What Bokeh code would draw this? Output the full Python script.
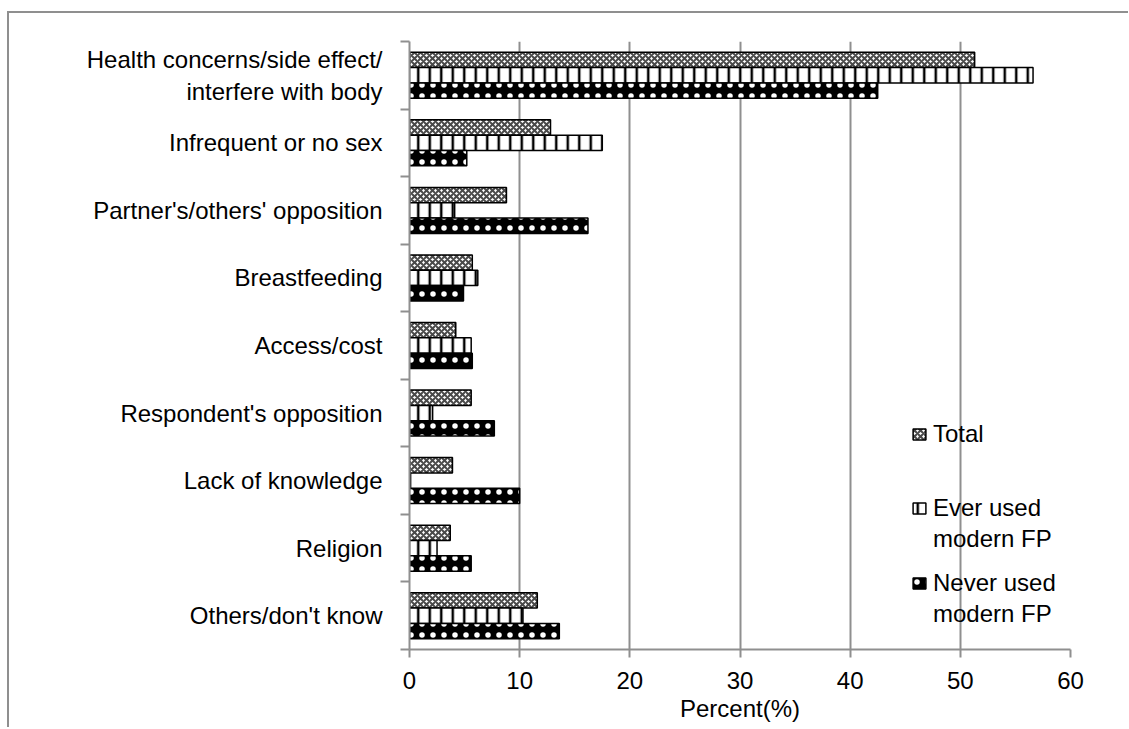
from bokeh.plotting import figure
from bokeh.models import (ColumnDataSource, Range1d, LinearAxis, FixedTicker,
                          Legend, LegendItem)
from bokeh.transform import dodge
from bokeh.embed import file_html
from bokeh.resources import INLINE

categories = [
    "Health concerns/side effect/\ninterfere with body",
    "Infrequent or no sex",
    "Partner's/others' opposition",
    "Breastfeeding",
    "Access/cost",
    "Respondent's opposition",
    "Lack of knowledge",
    "Religion",
    "Others/don't know",
]
total = [51.3, 12.8, 8.8, 5.7, 4.2, 5.6, 3.9, 3.7, 11.6]
ever_used = [56.6, 17.5, 4.1, 6.2, 5.6, 2.1, 0.1, 2.5, 10.3]
never_used = [42.5, 5.2, 16.2, 4.9, 5.7, 7.7, 10.0, 5.6, 13.6]
x_ticks = [0, 10, 20, 30, 40, 50, 60]

n = len(categories)
pos = [n - 1 - i for i in range(n)]
src = ColumnDataSource(dict(pos=pos, cat=categories, total=total,
                            ever=ever_used, never=never_used))

FONT = "Liberation Sans"
GRAY = "#8f8f8f"

p = figure(frame_width=661, frame_height=608,
           min_border_left=400, min_border_right=58,
           min_border_top=28, min_border_bottom=78,
           x_range=Range1d(0, 60), y_range=Range1d(-0.5, n - 0.5),
           output_backend="svg", toolbar_location=None,
           x_axis_location=None, y_axis_location=None)
p.margin = (11, 0, 0, 7)
p.styles = {"border-top": "2px solid " + GRAY, "border-left": "2px solid " + GRAY}
p.outline_line_color = None
p.background_fill_color = "white"
p.border_fill_color = "white"

h = 0.227
r_total = p.hbar(y=dodge("pos", h, range=p.y_range), left=0, right="total", height=h,
                 source=src, fill_color="white", line_color="black", line_width=1.5,
                 hatch_pattern="diagonal_cross", hatch_color="#4a4a4a",
                 hatch_scale=6, hatch_weight=2)
r_ever = p.hbar(y=dodge("pos", 0, range=p.y_range), left=0, right="ever", height=h,
                source=src, fill_color="white", line_color="black", line_width=1.5,
                hatch_pattern="vertical_line", hatch_color="black",
                hatch_scale=11.5, hatch_weight=2.5)
r_never = p.hbar(y=dodge("pos", -h, range=p.y_range), left=0, right="never", height=h,
                 source=src, fill_color="black", line_color="black", line_width=1.5,
                 hatch_pattern="dot", hatch_color="white",
                 hatch_scale=11, hatch_weight=0.8)
# invisible renderer used for second lines of legend labels
r_blank = p.hbar(y=[], left=[], right=[], height=h, fill_alpha=0, line_alpha=0)

# axes
xaxis = LinearAxis(ticker=FixedTicker(ticks=x_ticks), axis_label="Percent(%)")
xaxis.axis_line_color = GRAY
xaxis.axis_line_width = 2
xaxis.major_tick_line_color = GRAY
xaxis.major_tick_line_width = 2
xaxis.major_tick_out = 8
xaxis.major_tick_in = 0
xaxis.minor_tick_line_color = None
xaxis.major_label_text_font = FONT
xaxis.major_label_text_font_size = "24px"
xaxis.major_label_text_color = "black"
xaxis.major_label_standoff = 14
xaxis.axis_label_text_font = FONT
xaxis.axis_label_text_font_size = "24px"
xaxis.axis_label_text_font_style = "normal"
xaxis.axis_label_text_color = "black"
xaxis.axis_label_standoff = 3
p.add_layout(xaxis, "below")

yaxis = LinearAxis(ticker=FixedTicker(ticks=pos,
                                      minor_ticks=[k - 0.5 for k in range(n + 1)]))
yaxis.major_label_overrides = {pp: c for pp, c in zip(pos, categories)}
yaxis.axis_line_color = GRAY
yaxis.axis_line_width = 2
yaxis.major_tick_line_color = None
yaxis.major_tick_out = 0
yaxis.major_tick_in = 0
yaxis.minor_tick_line_color = GRAY
yaxis.minor_tick_line_width = 2
yaxis.minor_tick_out = 9
yaxis.minor_tick_in = 0
yaxis.major_label_text_font = FONT
yaxis.major_label_text_font_size = "24px"
yaxis.major_label_text_color = "black"
yaxis.major_label_standoff = 18
p.add_layout(yaxis, "left")

p.xgrid.ticker = FixedTicker(ticks=x_ticks)
p.xgrid.grid_line_color = GRAY
p.xgrid.grid_line_width = 2
p.ygrid.grid_line_color = None

def make_legend(items, loc):
    return Legend(items=items, location=loc, orientation="vertical",
                  padding=0, margin=0, spacing=0,
                  glyph_width=16, glyph_height=14, label_standoff=6,
                  label_text_font=FONT, label_text_font_size="24px",
                  label_text_color="black", label_height=31,
                  background_fill_alpha=0, border_line_alpha=0)

leg1 = make_legend([LegendItem(label="Total", renderers=[r_total])], (502, 200))
leg2 = make_legend([LegendItem(label="Ever used", renderers=[r_ever]),
                    LegendItem(label="modern FP", renderers=[r_blank])], (502, 95))
leg3 = make_legend([LegendItem(label="Never used", renderers=[r_never]),
                    LegendItem(label="modern FP", renderers=[r_blank])], (502, 20))
for lg in (leg1, leg2, leg3):
    p.add_layout(lg, "center")

open("out.html", "w").write(file_html(p, INLINE))
